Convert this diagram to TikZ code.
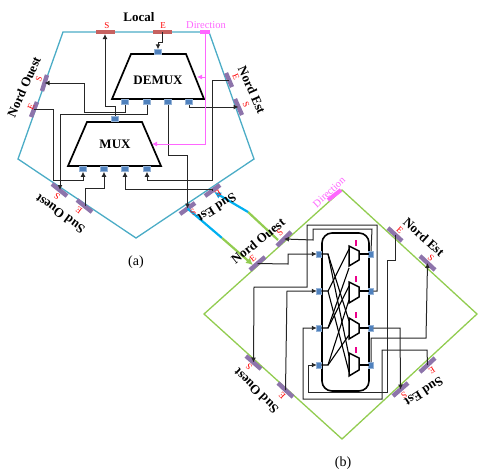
\documentclass[tikz,border=0pt]{standalone}
\usepackage{fontspec}
\setmainfont{Liberation Serif}
\usetikzlibrary{arrows.meta}
\definecolor{pent}{HTML}{4BACC6}
\definecolor{diam}{HTML}{92CC50}
\definecolor{prt}{HTML}{8064A2}
\definecolor{lcl}{HTML}{C0504D}
\definecolor{pblue}{HTML}{4F81BD}
\definecolor{mag}{HTML}{FF66FF}
\definecolor{sky}{HTML}{00B0F0}
\tikzset{
  wire/.style={line width=1pt,black!85,-{Latex[length=5pt,width=5pt]}},
  magwire/.style={line width=.9pt,mag,-{Latex[length=5pt,width=5pt]}},
  xwire/.style={line width=1.1pt,black},
  portbar/.style={line width=4.4pt,prt!90},
  lclbar/.style={line width=4pt,lcl!90},
  dirbar/.style={line width=4pt,mag},
  hub/.style={draw=pblue!60,fill=pblue,line width=.6pt,minimum width=7.5pt,minimum height=5.5pt,inner sep=0pt,outer sep=0pt},
  hubv/.style={hub,minimum width=4.5pt,minimum height=6pt},
  blk/.style={line width=1.7pt,black,line join=miter},
  smux/.style={line width=1.5pt,black,fill=white},
  nm/.style={font=\bfseries\fontsize{13}{14}\selectfont,inner sep=0pt},
  tag/.style={font=\fontsize{9}{10}\selectfont,text=red,inner sep=0pt},
  dirt/.style={font=\fontsize{10.5}{11}\selectfont,text=mag,inner sep=0pt},
  captxt/.style={font=\fontsize{14}{15}\selectfont,inner sep=0pt},
  link/.style={line width=2.2pt},
}
\begin{document}
\begin{tikzpicture}[x=1pt,y=-1pt]
\path[use as bounding box] (0,0) rectangle (478,471);
% --- outlines
\draw[pent,line width=1.3pt,line join=miter] (63,32) -- (209,32) -- (254,159) -- (136,238) -- (18,159) -- cycle;
\draw[diam,line width=1.3pt] (342,190) -- (477,314) -- (342,439) -- (204,314) -- cycle;
% --- (a) blocks
\draw[blk] (131,54) -- (186,54) -- (204,99) -- (112,99) -- cycle;
\draw[blk] (87,122) -- (142,122) -- (161,166) -- (68,166) -- cycle;
\node[nm] (demuxlbl) at (158,80) {DEMUX};
\node[nm] (muxlbl) at (115,144) {MUX};
% --- (a) ports coordinates
\coordinate (aLS) at (105,34); \coordinate (aLE) at (162,32);
\coordinate (aD) at (205,32);
\coordinate (aNOS) at (44.5,83); \coordinate (aNOE) at (34,109);
\coordinate (aNES) at (238.5,107); \coordinate (aNEE) at (229,80);
\coordinate (aSOS) at (60,190); \coordinate (aSOE) at (85,206);
\coordinate (aSES) at (187.5,208.5); \coordinate (aSEE) at (212.5,190.5);
\draw[lclbar] (96,32) -- (115,32);
\draw[lclbar] (153,32) -- (172,32);
\draw[dirbar] (200,32) -- (210,32);
\draw[portbar] (47,75) -- (42,91);
\draw[portbar] (37,102) -- (31,117);
\draw[portbar] (226,73) -- (232,87);
\draw[portbar] (235,99) -- (242,115);
\draw[portbar] (52,184) -- (67,196);
\draw[portbar] (77,200) -- (92,212);
\draw[portbar] (180,214) -- (195,203);
\draw[portbar] (205,196) -- (220,185);
% --- (a) hubs
\node[hub] (dT) at (158,52) {};
\node[hub] (d1) at (125,102) {};
\node[hub] (d2) at (147,102) {};
\node[hub] (d3) at (168,102) {};
\node[hub] (d4) at (189,102) {};
\node[hub] (mT) at (115,119) {};
\node[hub] (m1) at (83,169) {};
\node[hub] (m2) at (104,169) {};
\node[hub] (m3) at (125,169) {};
\node[hub] (m4) at (147,169) {};
% --- (a) wires
\draw[wire] (aLE) -- (162,42) -- (158,42) -- (dT.north);
\draw[wire] (mT.north) -- (115,106) -- (105,106) -- (aLS);
\draw[wire] (d1.south) -- (125,112) -- (84,112) -- (84,83) -- (aNOS);
\draw[wire] (d2.south) -- (147,114) -- (60,114) -- (aSOS);
\draw[wire] (aNOE) -- (53,109) -- (53,180) -- (83,180) -- (m1.south);
\draw[wire] (aSOE) -- (85,188) -- (104,188) -- (m2.south);
\draw[wire] (aNEE) -- (212.5,80) -- (212.5,180) -- (147,180) -- (m4.south);
\draw[wire] (d4.south) -- (189,107) -- (aNES);
\draw[wire] (d3.south) -- (168,155) -- (187.5,155) -- (aSES);
\draw[wire] (aSEE) -- (212.5,189) -- (125,189) -- (m3.south);
\coordinate (dirA) at (197,77); \coordinate (dirB) at (152,144);
\draw[magwire] (aD) -- (205,77) -- (dirA);
\draw[magwire] (aD) -- (205,144) -- (dirB);
% --- link between (a) and (b)
\coordinate (bNOE) at (257.5,263.5); \coordinate (bNOS) at (284,239);
\coordinate (lk1) at (222,238); \coordinate (lk2) at (248,212);
\draw[link,sky] (aSES) -- (lk1);
\draw[link,diam,-{Latex[length=7pt,width=7pt]}] (lk1) -- (253,265);
\draw[link,diam] (278,240) -- (lk2);
\draw[link,sky,-{Latex[length=7pt,width=7pt]}] (lk2) -- (214,192);
% --- (b) ports
\coordinate (bNES) at (427.5,263); \coordinate (bNEE) at (395,234.5);
\coordinate (bSOS) at (253.5,362.5); \coordinate (bSOE) at (285.5,390);
\coordinate (bSES) at (400.5,389.5); \coordinate (bSEE) at (427.5,365);
\draw[portbar] (277,246) -- (291,232);
\draw[portbar] (250,270) -- (265,257);
\draw[dirbar] (328,200) -- (341,190);
\draw[portbar] (388,228) -- (402,241);
\draw[portbar] (420,256) -- (435,270);
\draw[portbar] (246,356) -- (261,369);
\draw[portbar] (278,383) -- (293,397);
\draw[portbar] (393,396) -- (408,383);
\draw[portbar] (420,372) -- (435,358);
% --- (b) crossbar
\draw[line width=1.6pt,black,rounded corners=10pt] (322,233) rectangle (369,391);
\node[hubv] (i1) at (319,254) {};
\node[hubv] (i2) at (319,291) {};
\node[hubv] (i3) at (319,328) {};
\node[hubv] (i4) at (319,365) {};
\node[hubv] (o1) at (371,254) {};
\node[hubv] (o2) at (371,291) {};
\node[hubv] (o3) at (371,328) {};
\node[hubv] (o4) at (371,365) {};
\coordinate (j1) at (328,254); \coordinate (j2) at (328,291);
\coordinate (j3) at (328,328); \coordinate (j4) at (328,365);
\draw[xwire] (i1) -- (j1) -- (349,321);
\draw[xwire] (j1) -- (349,356);
\draw[xwire] (i2) -- (j2) -- (349,249);
\draw[xwire] (j2) -- (349,372);
\draw[xwire] (i3) -- (j3) -- (349,268);
\draw[xwire] (j3) -- (349,286);
\draw[xwire] (i4) -- (j4) -- (349,300);
\draw[xwire] (j4) -- (349,335);
\foreach \n/\a/\b/\c/\d in {1/246/251/260/266,2/282/287/297/303,3/318/324/333/339,4/353/358/370/376}{
  \draw[smux] (349,\a) -- (359,\b) -- (359,\c) -- (349,\d) -- cycle;
  \draw[line width=1.5pt,magenta] (356,\a-6) -- (356,\a);
}
\foreach \n/\y in {1/254,2/291,3/328,4/365}{ \draw[xwire] (359,\y) -- (o\n); }
% --- (b) wires
\draw[wire] (bNOE) -- (288,264) -- (288,254) -- (i1.west);
\draw[wire] (o1.north) -- (372,229) -- (313,229) -- (313,240) -- (bNOS);
\draw[wire] (o2.east) -- (377,291) -- (377,225) -- (307,225) -- (307,287) -- (254,287) -- (bSOS);
\draw[wire] (bSOE) -- (287,291) -- (i2.west);
\draw[wire] (bSEE) -- (427,350) -- (382,350) -- (382,399) -- (303,399) -- (303,328) -- (i3.west);
\draw[wire] (bNEE) -- (395,260) -- (387,260) -- (387,392) -- (308,392) -- (308,365) -- (i4.west);
\draw[wire] (o3.east) -- (400,328) -- (bSES);
\draw[wire] (o4.north) -- (371,338) -- (426,338) -- (bNES);
% --- labels
\node[nm] (tLocal) at (139,17) {Local};
\node[tag] (tLS) at (107,26) {S};
\node[tag] (tLE) at (163,26) {E};
\node[dirt] (tD) at (206,25) {Direction};
\node[nm,rotate=66] (tNO) at (24,87) {Nord Ouest};
\node[tag,rotate=66] (tNOS) at (39,79) {S};
\node[tag,rotate=66] (tNOE) at (31,107) {E};
\node[nm,rotate=-66] (tNE) at (252,90) {Nord Est};
\node[tag,rotate=-66] (tNEE) at (236,77) {E};
\node[tag,rotate=-66] (tNES) at (246,105) {S};
\node[nm,rotate=144] (tSO) at (60,214) {Sud Ouest};
\node[tag,rotate=144] (tSOS) at (57,196) {S};
\node[tag,rotate=144] (tSOE) at (79,210) {E};
\node[nm,rotate=212] (tSE) at (217,208) {Sud Est};
\node[tag,rotate=212] (tSES) at (193,212) {S};
\node[tag,rotate=212] (tSEE) at (218,193) {E};
\node[captxt] (capa) at (136,262) {(a)};
\node[nm,rotate=39] (bNO) at (258,241) {Nord Ouest};
\node[tag,rotate=39] (bNOSt) at (280,233) {S};
\node[tag,rotate=39] (bNOEt) at (253,258) {E};
\node[dirt,rotate=43] (bD) at (329,192) {Direction};
\node[nm,rotate=-42] (bNE) at (424,237) {Nord Est};
\node[tag,rotate=-42] (bNEEt) at (400,230) {E};
\node[tag,rotate=-42] (bNESt) at (431,258) {S};
\node[nm,rotate=135] (bSO) at (256,391) {Sud Ouest};
\node[tag,rotate=135] (bSOSt) at (249,367) {S};
\node[tag,rotate=135] (bSOEt) at (282,396) {E};
\node[nm,rotate=213] (bSE) at (424,392) {Sud Est};
\node[tag,rotate=213] (bSESt) at (404,395) {S};
\node[tag,rotate=213] (bSEEt) at (432,370) {E};
\node[captxt] (capb) at (343,463) {(b)};
\end{tikzpicture}
\end{document}
